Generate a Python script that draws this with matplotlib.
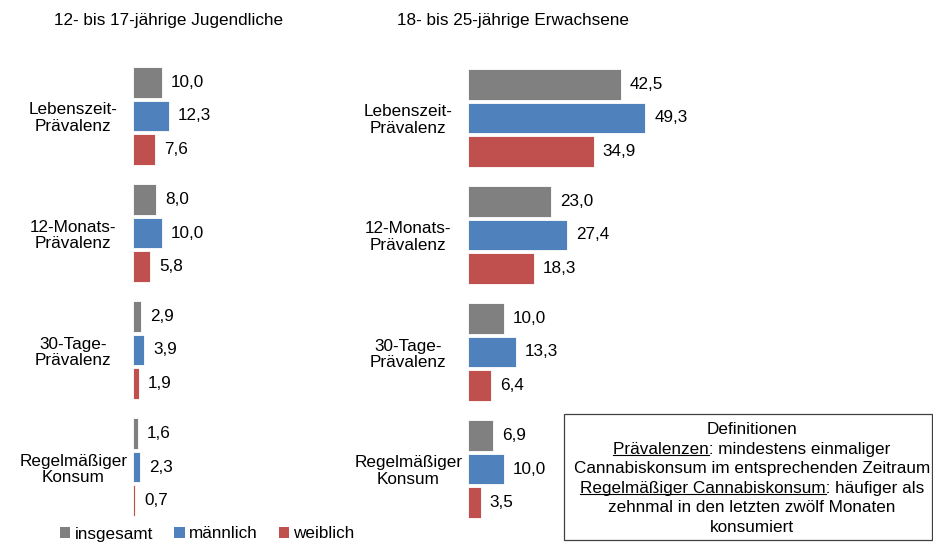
import numpy as np
import matplotlib.pyplot as plt
from matplotlib.patches import Rectangle, Patch
from matplotlib.lines import Line2D

plt.rcParams['font.family'] = ['Liberation Sans', 'DejaVu Sans']
plt.rcParams['font.size'] = 12.3

W, H = 933, 542
FS = 12.3

categories = ["Lebenszeit-\nPrävalenz", "12-Monats-\nPrävalenz", "30-Tage-\nPrävalenz", "Regelmäßiger\nKonsum"]
series = ["insgesamt", "männlich", "weiblich"]
colors = ["#808080", "#4F81BD", "#C0504D"]

jugend_insgesamt = [10.0, 8.0, 2.9, 1.6]
jugend_maennlich = [12.3, 10.0, 3.9, 2.3]
jugend_weiblich = [7.6, 5.8, 1.9, 0.7]

erw_insgesamt = [42.5, 23.0, 10.0, 6.9]
erw_maennlich = [49.3, 27.4, 13.3, 10.0]
erw_weiblich = [34.9, 18.3, 6.4, 3.5]

fig = plt.figure(figsize=(W / 100, H / 100), dpi=100)


def px_axes(x0, x1):
    # axes spanning full figure height, horizontal span in pixels
    return fig.add_axes([x0 / W, 0, (x1 - x0) / W, 1])


def draw_panel(ax, data, px_per_unit, width_px, first_center, spacing=117.0):
    ax.set_xlim(0, width_px / px_per_unit)
    ax.set_ylim((H - first_center) / spacing, -first_center / spacing)
    y = np.arange(len(categories))
    step = 33.5 / spacing
    hgt = 30.5 / spacing
    for k, vals in enumerate(data):
        pos = y + (k - 1) * step
        ax.barh(pos, vals, height=hgt, color=colors[k], edgecolor="white", linewidth=0.6)
        for p, v in zip(pos, vals):
            ax.annotate(f"{v:.1f}".replace(".", ","), (v, p), xytext=(6.5, 0),
                        textcoords="offset points", va="center", ha="left", fontsize=FS)
    ax.set_yticks(y)
    ax.set_yticklabels(categories, ha="center", multialignment="center", fontsize=FS, linespacing=1.1)
    ax.tick_params(axis="y", length=0, pad=43)
    ax.tick_params(axis="x", bottom=False, labelbottom=False)
    for s in ax.spines.values():
        s.set_visible(False)
    ax.patch.set_visible(False)


ax1 = px_axes(133, 330)
draw_panel(ax1, [jugend_insgesamt, jugend_maennlich, jugend_weiblich], 2.9, 197, 116)
ax2 = px_axes(468, 700)
draw_panel(ax2, [erw_insgesamt, erw_maennlich, erw_weiblich], 3.6, 232, 118)

fig.text(169 / W, 1 - 20 / H, "12- bis 17-jährige Jugendliche", ha="center", va="center", fontsize=FS)
fig.text(513 / W, 1 - 20 / H, "18- bis 25-jährige Erwachsene", ha="center", va="center", fontsize=FS)

handles = [Patch(facecolor=c, edgecolor="none") for c in colors]
fig.legend(handles, series, loc="center left", bbox_to_anchor=(60 / W, 1 - 534 / H), ncol=3,
           frameon=False, handlelength=0.6, handleheight=0.6, handletextpad=0.25,
           columnspacing=1.25, borderaxespad=0, borderpad=0, fontsize=FS)

# Definitions box
fig.add_artist(Rectangle((564 / W, 1 - 540 / H), 368 / W, 126 / H, transform=fig.transFigure,
                         facecolor="white", edgecolor="#404040", linewidth=0.9))
box_lines = [
    ("Definitionen", None),
    ("Prävalenzen: mindestens einmaliger", "Prävalenzen"),
    ("Cannabiskonsum im entsprechenden Zeitraum", None),
    ("Regelmäßiger Cannabiskonsum: häufiger als", "Regelmäßiger Cannabiskonsum"),
    ("zehnmal in den letzten zwölf Monaten", None),
    ("konsumiert", None),
]
fig.canvas.draw()
renderer = fig.canvas.get_renderer()
for i, (line, under) in enumerate(box_lines):
    yc = 430 + i * 19.4
    t = fig.text(752 / W, 1 - yc / H, line, ha="center", va="center", fontsize=FS)
    if under:
        bb = t.get_window_extent(renderer)
        m = fig.text(bb.x0 / W, 1 - yc / H, under, ha="left", va="center", fontsize=FS, alpha=0)
        mb = m.get_window_extent(renderer)
        yl = (bb.y0 + 1.5) / H
        fig.add_artist(Line2D([mb.x0 / W, mb.x1 / W], [yl, yl], transform=fig.transFigure,
                              color="black", linewidth=0.8))

fig.savefig("out.png", dpi=100)
